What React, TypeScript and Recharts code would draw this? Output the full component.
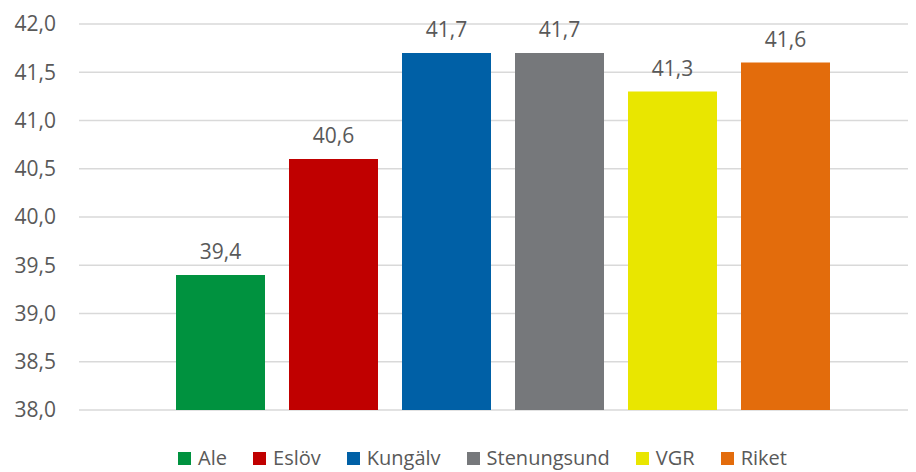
import { BarChart, Bar, XAxis, YAxis, CartesianGrid, LabelList, Legend } from "recharts";

const series = ["Ale", "Eslöv", "Kungälv", "Stenungsund", "VGR", "Riket"];
const values = [39.4, 40.6, 41.7, 41.7, 41.3, 41.6];
const colors = ["#00923F", "#C00000", "#0060A6", "#76787B", "#E9E600", "#E36C0C"];
const yTicks = [38, 38.5, 39, 39.5, 40, 40.5, 41, 41.5, 42];

const row: Record<string, number | string> = { name: "" };
series.forEach((s, i) => {
  row[s] = values[i];
});
const data = [row];

const fmt = (v: number) => v.toFixed(1).replace(".", ",");
const font = "'Open Sans', sans-serif";

function LegendBox() {
  return (
    <div
      style={{
        display: "flex",
        justifyContent: "center",
        alignItems: "center",
        gap: 26,
        paddingLeft: 28,
        fontFamily: font,
        fontSize: 20,
        lineHeight: "20px",
        color: "#595959",
        height: 20,
      }}
    >
      {series.map((s, i) => (
        <div key={s} style={{ display: "flex", alignItems: "center" }}>
          <span style={{ width: 13, height: 13, background: colors[i], marginRight: 7, display: "inline-block" }} />
          <span>{s}</span>
        </div>
      ))}
    </div>
  );
}

export default function App() {
  return (
    <div style={{ width: 908, height: 464, overflow: "hidden", background: "#fff" }}>
      <BarChart
        width={921}
        height={464}
        data={data}
        margin={{ top: 16, right: 0, left: 0, bottom: 42 }}
        barCategoryGap={97}
        barGap={24}
      >
        <CartesianGrid vertical={false} stroke="#D9D9D9" strokeWidth={1.3} />
        <XAxis dataKey="name" hide />
        <YAxis
          domain={[38, 42]}
          ticks={yTicks}
          width={71}
          axisLine={false}
          tickLine={false}
          tickSize={0}
          tickMargin={23}
          tickFormatter={fmt}
          tick={{ fill: "#595959", fontSize: 21, fontFamily: font }}
          interval={0}
        />
        <Legend
          verticalAlign="bottom"
          content={() => <LegendBox />}
          wrapperStyle={{ top: 440, left: 0, width: 921, height: 20 }}
        />
        {series.map((s, i) => (
          <Bar key={s} dataKey={s} fill={colors[i]} isAnimationActive={false}>
            <LabelList
              dataKey={s}
              position="top"
              offset={16}
              formatter={(v: any) => fmt(Number(v))}
              style={{ fill: "#595959", fontSize: 21, fontFamily: font }}
            />
          </Bar>
        ))}
      </BarChart>
    </div>
  );
}
